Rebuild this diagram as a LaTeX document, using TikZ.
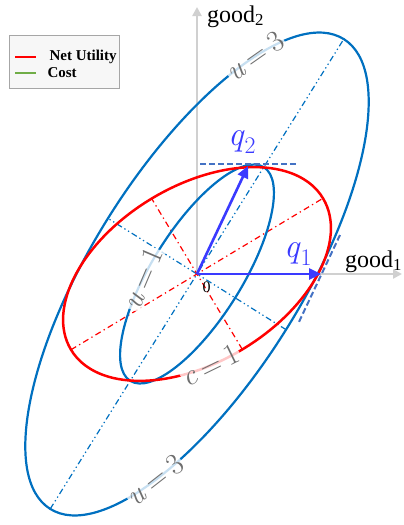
\documentclass[tikz,border=0pt]{standalone}
\usepackage{fontspec}
\setmainfont{Liberation Serif}
\newfontfamily\lmr{Latin Modern Roman}
\usetikzlibrary{arrows.meta}
\definecolor{ublue}{HTML}{0070C0}
\definecolor{cred}{HTML}{FF0000}
\definecolor{qblue}{HTML}{3A3AFF}
\definecolor{tblue}{HTML}{4472C4}
\definecolor{axgray}{HTML}{D0D0D0}
\definecolor{lblgray}{HTML}{6E6E6E}
\definecolor{cgreen}{HTML}{70AD47}
\newcommand{\eqlbl}[2]{\textit{#1}\hspace{0.2em}=\hspace{0.2em}#2}
\newcommand{\qlbl}[1]{\textit{q}\textsubscript{#1}}
\begin{document}
\begin{tikzpicture}[x=1pt,y=-1pt,
  axisline/.style={draw=axgray,line width=2.5pt,-{Triangle[length=9pt,width=9pt]}},
  qarrow/.style={draw=qblue,line width=2.6pt,-{Triangle[length=12pt,width=11pt]}},
  ucurve/.style={draw=ublue,line width=2.2pt},
  ccurve/.style={draw=cred,line width=2.5pt},
  udash/.style={draw=ublue,line width=1.2pt,dash pattern=on 6pt off 3pt on 1.3pt off 3pt on 1.3pt off 3pt},
  cdash/.style={draw=cred,line width=1.2pt,dash pattern=on 6pt off 3.5pt on 1.3pt off 3.5pt},
  tangent/.style={draw=tblue,line width=2pt,dash pattern=on 6pt off 3pt},
  curvelabel/.style={fill=white,fill opacity=0.78,text opacity=1,text=lblgray,inner sep=1pt,font=\lmr\fontsize{30}{32}\selectfont},
  qlabel/.style={text=qblue,font=\lmr\fontsize{34}{36}\selectfont},
  axislabel/.style={font=\fontsize{24}{26}\selectfont},
  legendtext/.style={anchor=west,font=\bfseries\fontsize{15}{17}\selectfont},
]
\useasboundingbox (0,0) rectangle (404,525);
\coordinate (O) at (197,274);
\coordinate (X) at (402,274);
\coordinate (Y) at (197,7);
\coordinate (Q1) at (321,274);
\coordinate (Q2) at (248,166);

% axes
\draw[axisline] (O) -- (X);
\draw[axisline] (O) -- (Y);

% principal axes (dash-dot)
\begin{scope}[shift={(O)},rotate=58]
  \draw[udash] (-277pt,0) -- (277pt,0);
  \draw[udash] (0,-105pt) -- (0,105pt);
\end{scope}
\begin{scope}[shift={(O)},rotate=31]
  \draw[cdash] (-147pt,0) -- (147pt,0);
  \draw[cdash] (0,-88pt) -- (0,88pt);
\end{scope}

% ellipses
\begin{scope}[shift={(O)},rotate=58]
  \draw[ucurve] (0,0) ellipse [x radius=277pt,y radius=105pt];
  \draw[ucurve] (0,0) ellipse [x radius=126pt,y radius=45pt];
\end{scope}
\begin{scope}[shift={(O)},rotate=31]
  \draw[ccurve] (0,0) ellipse [x radius=147pt,y radius=88pt];
\end{scope}

% tangent lines
\coordinate (T2a) at (200,164);
\coordinate (T2b) at (297,164);
\coordinate (T1a) at (340,235);
\coordinate (T1b) at (298,324);
\draw[tangent] (T2a) -- (T2b);
\draw[tangent] (T1a) -- (T1b);

% curve labels
\begin{scope}[shift={(O)},rotate=58]
  \node[curvelabel,rotate=35] (u3a) at (39:277pt and 105pt) {\eqlbl{u}{3}};
  \node[curvelabel,rotate=38] (u3b) at (224.6:277pt and 105pt) {\eqlbl{u}{3}};
  \node[curvelabel,rotate=67] (u1) at (105:126pt and 45pt) {\eqlbl{u}{1}};
\end{scope}
\begin{scope}[shift={(O)},rotate=31]
  \node[curvelabel,rotate=26] (c1) at (256:147pt and 88pt) {\eqlbl{c}{1}};
\end{scope}

% vectors
\draw[qarrow] (O) -- (Q1);
\draw[qarrow] (O) -- (Q2);
\node[qlabel] (q1) at (298,254) {\qlbl{1}};
\node[qlabel] (q2) at (242,142) {\qlbl{2}};

% axis labels
\node[axislabel,anchor=base west,inner sep=0] (g1) at (345,267) {good\textsubscript{1}};
\node[axislabel,anchor=base west,inner sep=0] (g2) at (207,22) {good\textsubscript{2}};
\node[font=\fontsize{16}{18}\selectfont,inner sep=0] (zero) at (206.5,287.5) {0};

% legend
\node[draw=gray!70,fill=white!97!black,line width=0.8pt,minimum width=110pt,minimum height=53pt,anchor=north west,inner sep=0] (legend) at (9,35) {};
\coordinate (l1a) at (15,57);
\coordinate (l1b) at (36,57);
\coordinate (l2a) at (15,73);
\coordinate (l2b) at (36,73);
\draw[draw=cred,line width=1.8pt] (l1a) -- (l1b);
\draw[draw=cgreen,line width=1.8pt] (l2a) -- (l2b);
\node[legendtext] (lt1) at (46,57) {Net Utility};
\node[legendtext] (lt2) at (44,73) {Cost};
\end{tikzpicture}
\end{document}
